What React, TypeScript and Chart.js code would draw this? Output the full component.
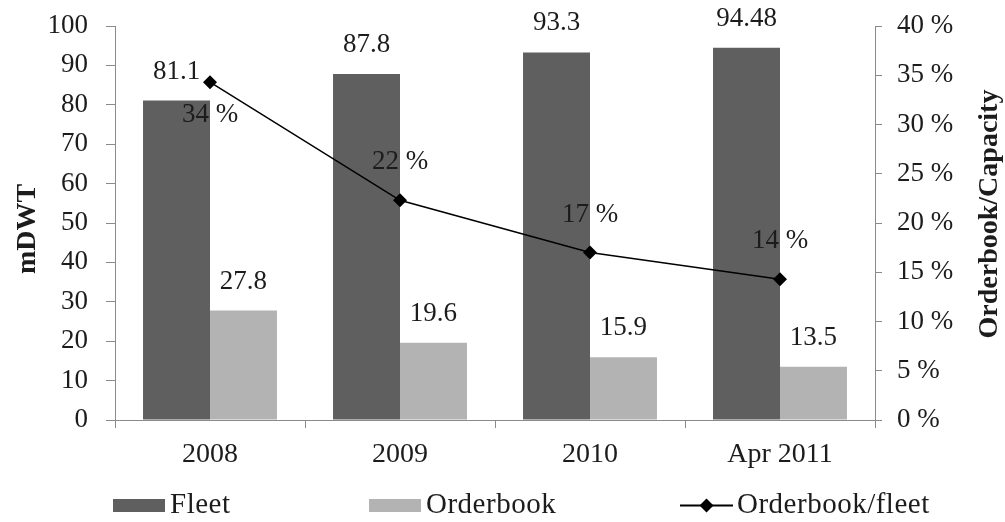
import { useEffect, useRef } from "react";
import { Chart, registerables } from "chart.js";

Chart.register(...registerables);

// Fleet capacity vs. orderbook (million DWT) and orderbook as a share of fleet
const categories = ["2008", "2009", "2010", "Apr 2011"];
const fleet = [81.1, 87.8, 93.3, 94.48];
const orderbook = [27.8, 19.6, 15.9, 13.5];
const orderbookShare = [34.3, 22.3, 17.0, 14.3];

const seriesNames = ["Fleet", "Orderbook", "Orderbook/fleet"];
const leftTitle = "mDWT";
const rightTitle = "Orderbook/Capacity";

// share labels sit below the point for the first year, above for the others
const shareLabelBelow = [true, false, false, false];

const SERIF = "'Liberation Serif', 'Times New Roman', serif";
const TEXT = "#1c1c1c";
const AXIS = "#8a8a8a";
const FLEET_COLOR = "#5f5f5f";
const ORDER_COLOR = "#b3b3b3";

const annotate = {
  id: "annotate",
  afterDatasetsDraw(chart: any) {
    const ctx = chart.ctx;
    ctx.save();
    ctx.fillStyle = TEXT;
    ctx.textAlign = "center";
    ctx.textBaseline = "middle";
    ctx.font = `27px ${SERIF}`;
    [0, 1].forEach((di) => {
      const meta = chart.getDatasetMeta(di);
      const values = chart.data.datasets[di].data as number[];
      meta.data.forEach((el: any, i: number) => {
        ctx.fillText(String(values[i]), el.x, el.y - 29);
      });
    });
    const lineMeta = chart.getDatasetMeta(2);
    lineMeta.data.forEach((el: any, i: number) => {
      const text = `${Math.round(orderbookShare[i])} %`;
      const dy = shareLabelBelow[i] ? 33 : -38;
      ctx.fillText(text, el.x, el.y + dy);
    });
    ctx.restore();
  },
  afterDraw(chart: any) {
    const ctx = chart.ctx;
    const a = chart.chartArea;
    ctx.save();
    // base line runs slightly past both vertical axes
    ctx.strokeStyle = AXIS;
    ctx.lineWidth = 1;
    ctx.beginPath();
    ctx.moveTo(a.left - 8, a.bottom + 0.5);
    ctx.lineTo(a.right + 7, a.bottom + 0.5);
    ctx.stroke();

    // axis titles, both reading bottom to top
    ctx.fillStyle = TEXT;
    ctx.font = `bold 28px ${SERIF}`;
    ctx.textAlign = "center";
    ctx.textBaseline = "middle";
    ctx.translate(28, 229);
    ctx.rotate(-Math.PI / 2);
    ctx.fillText(leftTitle, 0, 0);
    ctx.setTransform(1, 0, 0, 1, 0, 0);
    ctx.translate(990, 214);
    ctx.rotate(-Math.PI / 2);
    ctx.fillText(rightTitle, 0, 0);
    ctx.setTransform(1, 0, 0, 1, 0, 0);

    // legend
    const ly = 505.5;
    ctx.font = `29px ${SERIF}`;
    ctx.letterSpacing = "0.5px";
    ctx.textAlign = "left";
    ctx.textBaseline = "middle";
    ctx.fillStyle = FLEET_COLOR;
    ctx.fillRect(113, ly - 6.5, 52, 13);
    ctx.fillStyle = TEXT;
    ctx.fillText(seriesNames[0], 170, ly);
    ctx.fillStyle = ORDER_COLOR;
    ctx.fillRect(369, ly - 6.5, 52, 13);
    ctx.fillStyle = TEXT;
    ctx.fillText(seriesNames[1], 426, ly);
    ctx.strokeStyle = "#000";
    ctx.lineWidth = 2;
    ctx.beginPath();
    ctx.moveTo(680, ly);
    ctx.lineTo(733, ly);
    ctx.stroke();
    ctx.fillStyle = "#000";
    ctx.beginPath();
    ctx.moveTo(706.5, ly - 7);
    ctx.lineTo(713.5, ly);
    ctx.lineTo(706.5, ly + 7);
    ctx.lineTo(699.5, ly);
    ctx.closePath();
    ctx.fill();
    ctx.fillStyle = TEXT;
    ctx.fillText(seriesNames[2], 737, ly);
    ctx.restore();
  },
};

export default function App() {
  const ref = useRef<HTMLCanvasElement | null>(null);

  useEffect(() => {
    if (!ref.current) return;
    const tickFont = { family: SERIF, size: 27 };
    const chart = new Chart(ref.current, {
      type: "bar",
      data: {
        labels: categories,
        datasets: [
          {
            type: "bar",
            label: seriesNames[0],
            data: fleet,
            backgroundColor: FLEET_COLOR,
            yAxisID: "y",
            order: 2,
            categoryPercentage: 0.705,
            barPercentage: 1,
          },
          {
            type: "bar",
            label: seriesNames[1],
            data: orderbook,
            backgroundColor: ORDER_COLOR,
            yAxisID: "y",
            order: 2,
            categoryPercentage: 0.705,
            barPercentage: 1,
          },
          {
            type: "line",
            label: seriesNames[2],
            data: orderbookShare,
            yAxisID: "y1",
            borderColor: "#000",
            backgroundColor: "#000",
            borderWidth: 1.5,
            pointStyle: "rectRot",
            pointRadius: 7,
            pointBorderWidth: 0,
            tension: 0,
            order: 0,
          },
        ],
      },
      options: {
        animation: false,
        responsive: true,
        maintainAspectRatio: false,
        layout: { padding: { top: 26, left: 0, right: 0, bottom: 0 } },
        plugins: {
          legend: { display: false },
          tooltip: { enabled: false },
        },
        scales: {
          x: {
            offset: true,
            grid: {
              offset: true,
              drawOnChartArea: false,
              drawTicks: true,
              tickLength: 8,
              color: AXIS,
            },
            border: { color: AXIS },
            ticks: { font: { family: SERIF, size: 28 }, color: TEXT, padding: 10 },
            afterFit: (s: any) => {
              s.height = 102;
            },
          },
          y: {
            position: "left",
            min: 0,
            max: 100,
            ticks: { stepSize: 10, font: tickFont, color: TEXT, padding: 18 },
            grid: { drawOnChartArea: false, tickLength: 9, color: AXIS },
            border: { color: AXIS },
            afterFit: (s: any) => {
              s.width = 115;
              s.paddingTop = 0;
              s.paddingBottom = 0;
            },
          },
          y1: {
            position: "right",
            min: 0,
            max: 40,
            ticks: {
              stepSize: 5,
              font: tickFont,
              color: TEXT,
              padding: 15,
              callback: (v: any) => `${v} %`,
            },
            grid: { drawOnChartArea: false, tickLength: 7, color: AXIS },
            border: { color: AXIS },
            afterFit: (s: any) => {
              s.width = 130;
              s.paddingTop = 0;
              s.paddingBottom = 0;
            },
          },
        },
      },
      plugins: [annotate],
    });
    return () => chart.destroy();
  }, []);

  return (
    <div style={{ position: "absolute", left: 0, top: 0, width: 1005, height: 522, background: "#fff" }}>
      <canvas ref={ref} />
    </div>
  );
}
